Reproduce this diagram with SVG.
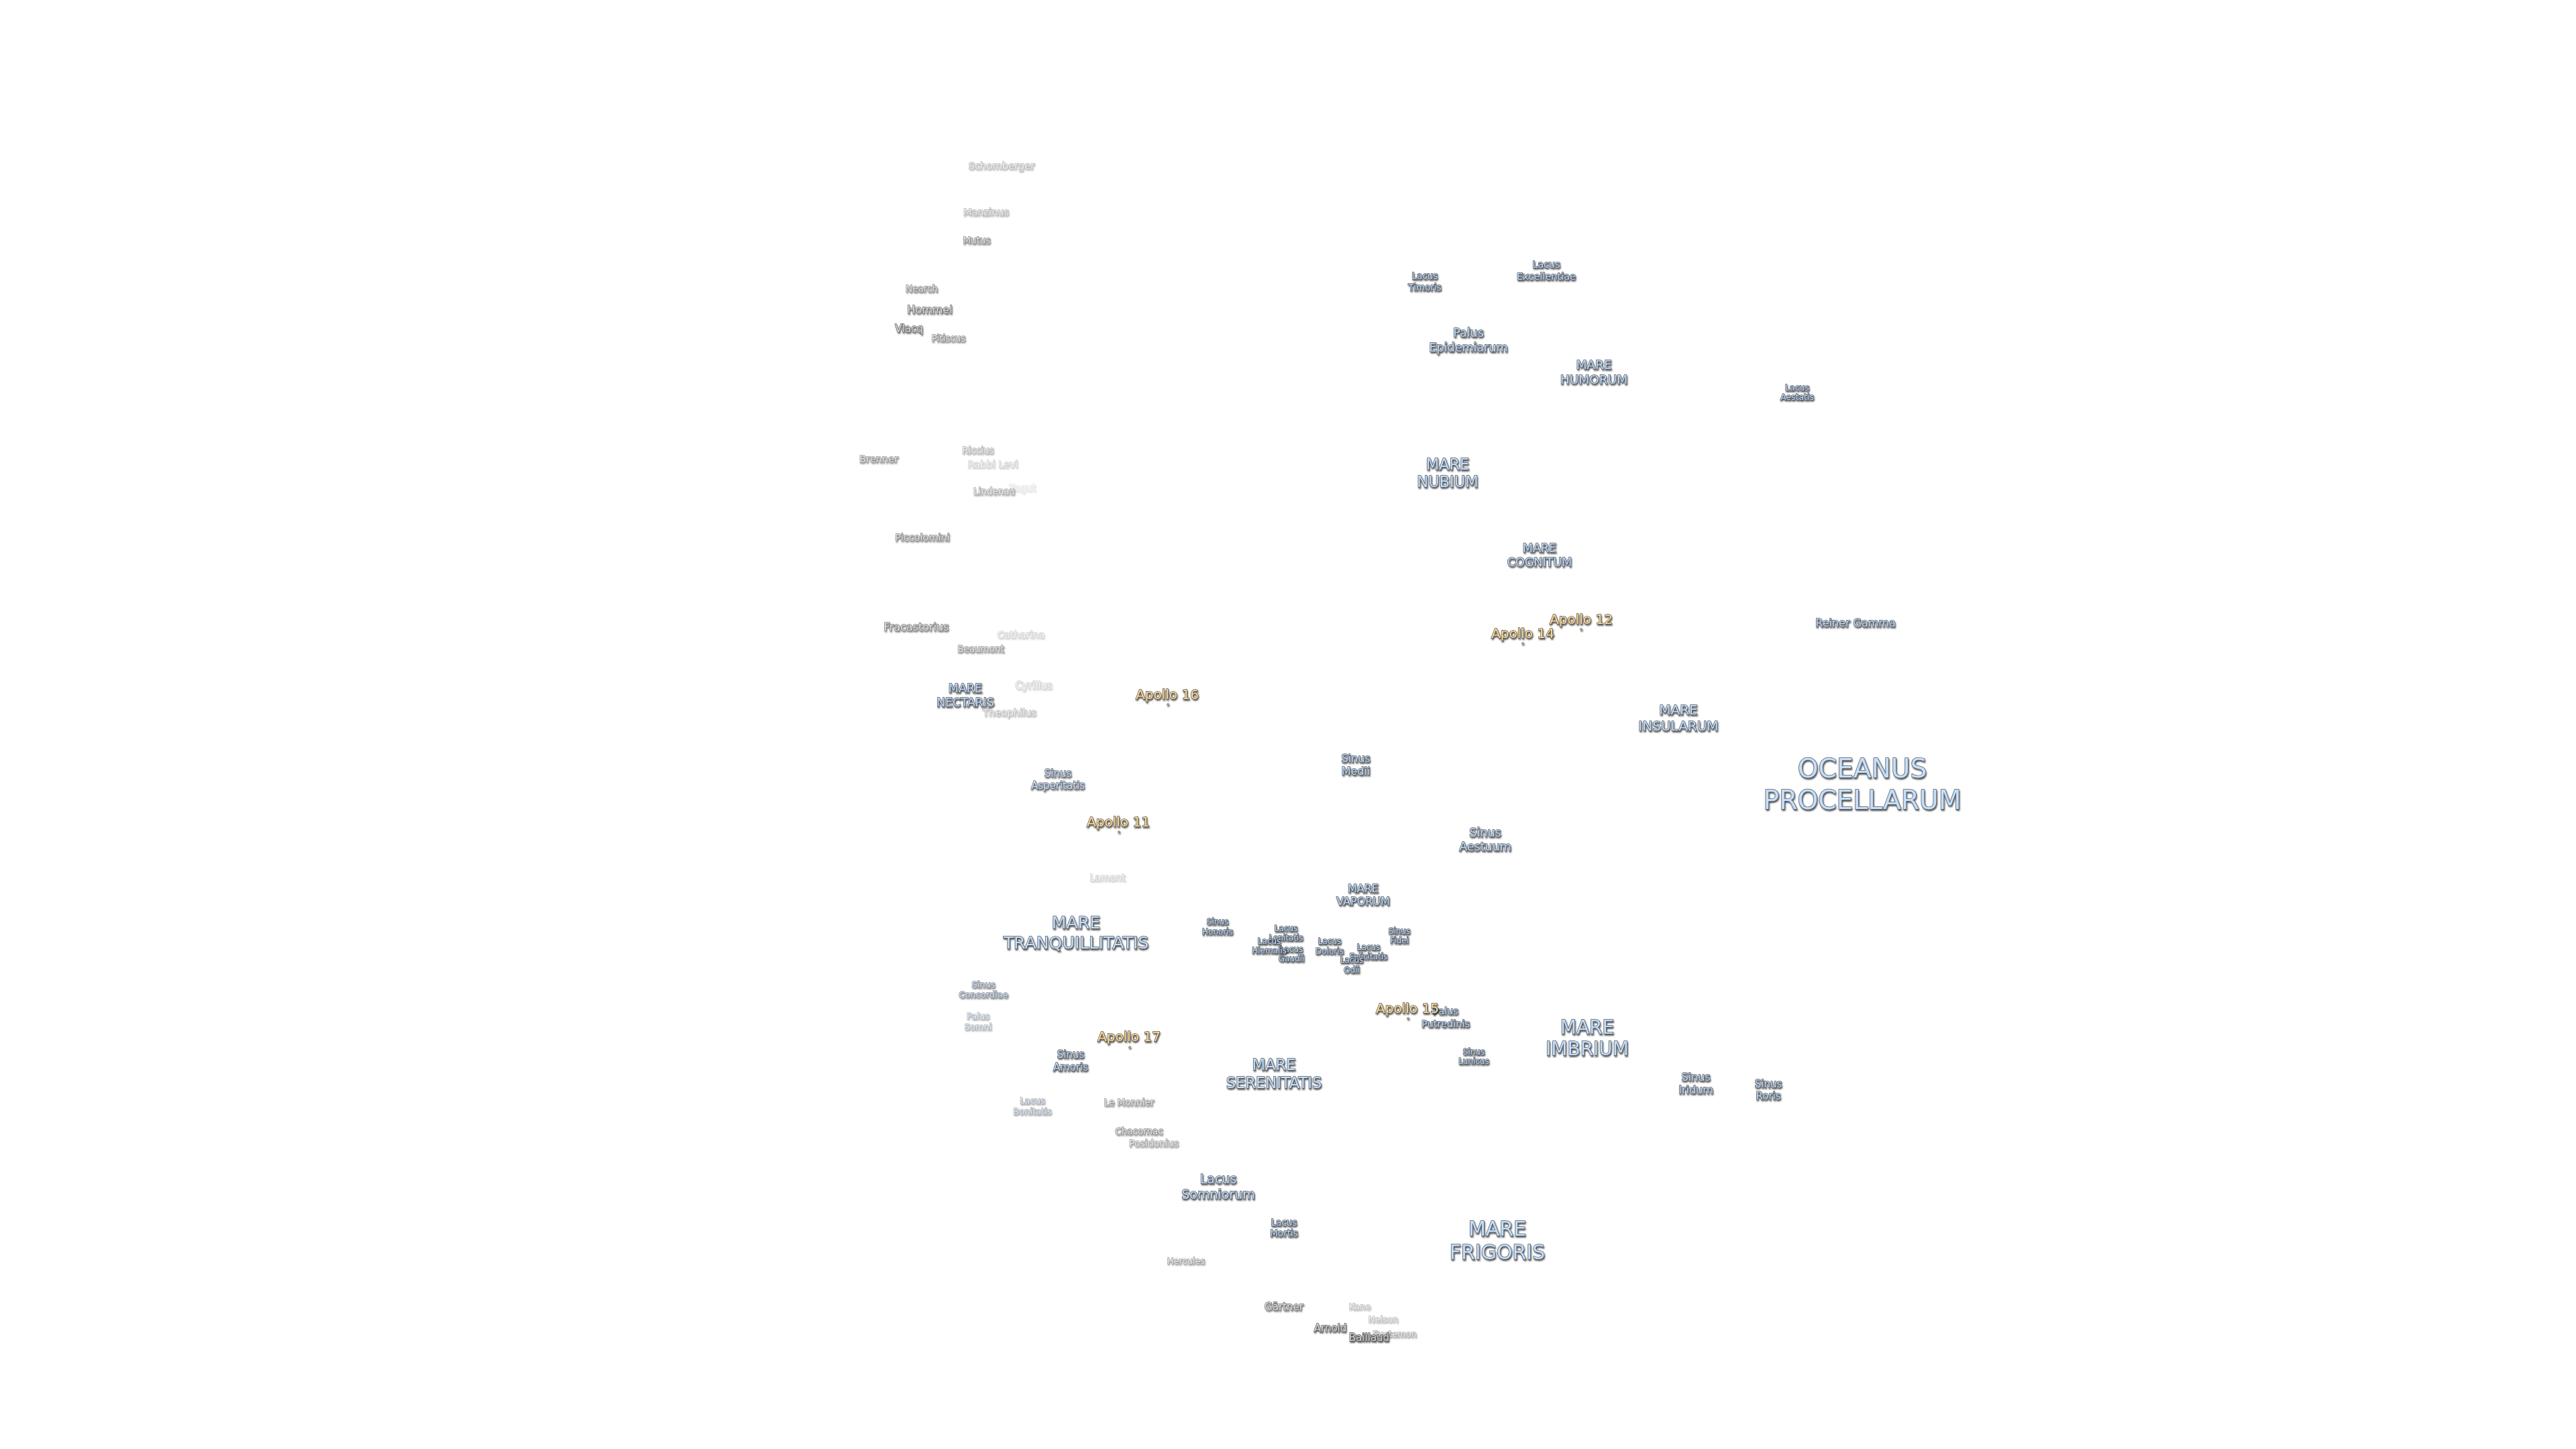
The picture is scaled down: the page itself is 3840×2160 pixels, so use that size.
<svg xmlns="http://www.w3.org/2000/svg" width="3840" height="2160" viewBox="0 0 3840 2160">
<style>
text{font-family:"DejaVu Sans",Verdana,sans-serif;text-anchor:middle;paint-order:stroke;stroke-width:1.4px;stroke-linejoin:miter}
g[id]{filter:url(#sh)}
.m text{fill:#c4dffc;stroke:#50555e}
.a text{fill:#ffdfa4;stroke:#5a4f3c}
.c text{fill:#dcdcdc;stroke:#444}
.a circle{fill:#e8b060;stroke:#444;stroke-width:.5}
</style>
<defs>
<filter id="sh" x="-20%" y="-30%" width="140%" height="170%">
<feGaussianBlur in="SourceAlpha" stdDeviation="1" result="b"/>
<feOffset in="b" dx="1.2" dy="1.8" result="o"/>
<feFlood flood-color="#000" flood-opacity=".7"/>
<feComposite in2="o" operator="in" result="s"/>
<feMerge result="m"><feMergeNode in="s"/><feMergeNode in="SourceGraphic"/></feMerge>
<feGaussianBlur in="m" stdDeviation=".4"/>
</filter>
</defs>
<rect width="3840" height="2160" fill="#fff"/>
<g transform="translate(0,-1.5)">
<g id="c-zagut" class="c" opacity=".15"><text x="1524" y="733" font-size="13.5">Zagut</text></g>
<g id="c-schomberger" class="c" opacity=".38"><text x="1493" y="253" font-size="14.7">Schomberger</text></g>
<g id="c-manzinus" class="c" opacity=".42"><text x="1470" y="322" font-size="14.5">Manzinus</text></g>
<g id="c-mutus" class="c" opacity=".65"><text x="1456" y="364" font-size="13.5">Mutus</text></g>
<g id="c-nearch" class="c" opacity=".65"><text x="1374" y="436" font-size="13.5">Nearch</text></g>
<g id="c-hommel" class="c" opacity=".8"><text x="1386" y="468" font-size="16">Hommel</text></g>
<g id="c-vlacq" class="c" opacity=".85"><text x="1355" y="496" font-size="15">Vlacq</text></g>
<g id="c-pitiscus" class="c" opacity=".62"><text x="1414" y="510" font-size="13.5">Pitiscus</text></g>
<g id="c-brenner" class="c" opacity=".62"><text x="1310" y="690" font-size="14.5">Brenner</text></g>
<g id="c-riccius" class="c" opacity=".42"><text x="1458" y="677" font-size="13.5">Riccius</text></g>
<g id="c-rabbi-levi" class="c" opacity=".26"><text x="1480" y="698" font-size="14.5">Rabbi Levi</text></g>
<g id="c-lindenau" class="c" opacity=".47"><text x="1482" y="738" font-size="13.5">Lindenau</text></g>
<g id="c-piccolomini" class="c" opacity=".68"><text x="1375" y="807" font-size="14.5">Piccolomini</text></g>
<g id="c-fracastorius" class="c" opacity=".72"><text x="1366" y="941" font-size="16">Fracastorius</text></g>
<g id="c-catharina" class="c" opacity=".25"><text x="1522" y="952" font-size="14.5">Catharina</text></g>
<g id="c-beaumont" class="c" opacity=".58"><text x="1462" y="973" font-size="13.5">Beaumont</text></g>
<g id="c-cyrillus" class="c" opacity=".25"><text x="1541" y="1028" font-size="15">Cyrillus</text></g>
<g id="c-theophilus" class="c" opacity=".37"><text x="1505" y="1068" font-size="14.7">Theophilus</text></g>
<g id="c-lamont" class="c" opacity=".26"><text x="1651" y="1314" font-size="14">Lamont</text></g>
<g id="c-le-monnier" class="c" opacity=".58"><text x="1683" y="1649" font-size="13.5">Le Monnier</text></g>
<g id="c-chacornac" class="c" opacity=".62"><text x="1698" y="1692" font-size="13.5">Chacornac</text></g>
<g id="c-posidonius" class="c" opacity=".52"><text x="1720" y="1710" font-size="14">Posidonius</text></g>
<g id="c-hercules" class="c" opacity=".52"><text x="1768" y="1885" font-size="13">Hercules</text></g>
<g id="c-gartner" class="c" opacity=".78"><text x="1914" y="1954" font-size="15">Gärtner</text></g>
<g id="c-kane" class="c" opacity=".36"><text x="2027" y="1953" font-size="13">Kane</text></g>
<g id="c-nelson" class="c" opacity=".36"><text x="2062" y="1972" font-size="13">Nelson</text></g>
<g id="c-euctemon" class="c" opacity=".47"><text x="2079" y="1994" font-size="13">Euctemon</text></g>
<g id="c-arnold" class="c" opacity=".92"><text x="1983" y="1986" font-size="15">Arnold</text></g>
<g id="c-baillaud" class="c"><text x="2041" y="2000" font-size="15">Baillaud</text></g>
<g id="m-oceanus" class="m"><text font-size="39.2"><tspan x="2776" y="1160">OCEANUS</tspan><tspan x="2776" y="1207">PROCELLARUM</tspan></text></g>
<g id="m-reiner" class="m"><text x="2766" y="935" font-size="16">Reiner Gamma</text></g>
<g id="m-insularum" class="m"><text font-size="20"><tspan x="2502" y="1066">MARE</tspan><tspan x="2502" y="1090">INSULARUM</tspan></text></g>
<g id="m-medii" class="m"><text font-size="16"><tspan x="2021" y="1137">Sinus</tspan><tspan x="2021" y="1156">Medii</tspan></text></g>
<g id="m-aestuum" class="m"><text font-size="17.5"><tspan x="2214" y="1248">Sinus</tspan><tspan x="2214" y="1269">Aestuum</tspan></text></g>
<g id="m-vaporum" class="m"><text font-size="16"><tspan x="2032" y="1331">MARE</tspan><tspan x="2032" y="1350">VAPORUM</tspan></text></g>
<g id="m-honoris" class="m"><text font-size="12"><tspan x="1815" y="1379">Sinus</tspan><tspan x="1815" y="1394">Honoris</tspan></text></g>
<g id="m-lenitatis" class="m"><text font-size="12"><tspan x="1917" y="1389">Lacus</tspan><tspan x="1917" y="1403">Lenitatis</tspan></text></g>
<g id="m-gaudii" class="m"><text font-size="12"><tspan x="1925" y="1420">Lacus</tspan><tspan x="1925" y="1434">Gaudii</tspan></text></g>
<g id="m-hiemalis" class="m"><text font-size="12"><tspan x="1892" y="1408">Lacus</tspan><tspan x="1892" y="1422">Hiemalis</tspan></text></g>
<g id="m-doloris" class="m"><text font-size="12"><tspan x="1982" y="1408">Lacus</tspan><tspan x="1982" y="1423">Doloris</tspan></text></g>
<g id="m-felicitatis" class="m"><text font-size="12"><tspan x="2040" y="1417">Lacus</tspan><tspan x="2040" y="1431">Felicitatis</tspan></text></g>
<g id="m-odii" class="m"><text font-size="12"><tspan x="2015" y="1436">Lacus</tspan><tspan x="2015" y="1451">Odii</tspan></text></g>
<g id="m-fidei" class="m"><text font-size="12"><tspan x="2086" y="1393">Sinus</tspan><tspan x="2086" y="1407">Fidei</tspan></text></g>
<g id="m-putredinis" class="m"><text font-size="14.5"><tspan x="2155" y="1513">Palus</tspan><tspan x="2155" y="1532">Putredinis</tspan></text></g>
<g id="m-lunicus" class="m"><text font-size="12"><tspan x="2197" y="1573">Sinus</tspan><tspan x="2197" y="1587">Lunicus</tspan></text></g>
<g id="m-imbrium" class="m"><text font-size="28"><tspan x="2366" y="1542">MARE</tspan><tspan x="2366" y="1574">IMBRIUM</tspan></text></g>
<g id="m-iridum" class="m"><text font-size="16"><tspan x="2528" y="1612">Sinus</tspan><tspan x="2528" y="1631">Iridum</tspan></text></g>
<g id="m-roris" class="m"><text font-size="15"><tspan x="2636" y="1622">Sinus</tspan><tspan x="2636" y="1640">Roris</tspan></text></g>
<g id="m-asperitatis" class="m" opacity=".88"><text font-size="15"><tspan x="1577" y="1159">Sinus</tspan><tspan x="1577" y="1177">Asperitatis</tspan></text></g>
<g id="m-tranquillitatis" class="m"><text font-size="25.2"><tspan x="1604" y="1385">MARE</tspan><tspan x="1604" y="1415">TRANQUILLITATIS</tspan></text></g>
<g id="m-concordiae" class="m" opacity=".7"><text font-size="13"><tspan x="1466" y="1473">Sinus</tspan><tspan x="1466" y="1488">Concordiae</tspan></text></g>
<g id="m-somni" class="m" opacity=".45"><text font-size="13"><tspan x="1458" y="1520">Palus</tspan><tspan x="1458" y="1536">Somni</tspan></text></g>
<g id="m-amoris" class="m"><text font-size="15"><tspan x="1596" y="1578">Sinus</tspan><tspan x="1596" y="1597">Amoris</tspan></text></g>
<g id="m-bonitatis" class="m" opacity=".5"><text font-size="13"><tspan x="1539" y="1646">Lacus</tspan><tspan x="1539" y="1662">Bonitatis</tspan></text></g>
<g id="m-serenitatis" class="m"><text font-size="22.6"><tspan x="1899" y="1596">MARE</tspan><tspan x="1899" y="1623">SERENITATIS</tspan></text></g>
<g id="m-somniorum" class="m"><text font-size="19"><tspan x="1816" y="1765">Lacus</tspan><tspan x="1816" y="1788">Somniorum</tspan></text></g>
<g id="m-mortis" class="m"><text font-size="13.5"><tspan x="1914" y="1828">Lacus</tspan><tspan x="1914" y="1844">Mortis</tspan></text></g>
<g id="m-frigoris" class="m"><text font-size="30"><tspan x="2232" y="1843">MARE</tspan><tspan x="2232" y="1878">FRIGORIS</tspan></text></g>
<g id="m-nectaris" class="m"><text font-size="17.5"><tspan x="1439" y="1033">MARE</tspan><tspan x="1439" y="1054">NECTARIS</tspan></text></g>
<g id="m-timoris" class="m"><text font-size="13.5"><tspan x="2124" y="417">Lacus</tspan><tspan x="2124" y="434">Timoris</tspan></text></g>
<g id="m-excellentiae" class="m"><text font-size="14.5"><tspan x="2305" y="400">Lacus</tspan><tspan x="2305" y="418">Excellentiae</tspan></text></g>
<g id="m-epidemiarum" class="m"><text font-size="17.5"><tspan x="2189" y="503">Palus</tspan><tspan x="2189" y="525">Epidemiarum</tspan></text></g>
<g id="m-humorum" class="m"><text font-size="18.5"><tspan x="2376" y="551">MARE</tspan><tspan x="2376" y="573">HUMORUM</tspan></text></g>
<g id="m-aestatis" class="m"><text font-size="12.5"><tspan x="2679" y="583">Lacus</tspan><tspan x="2679" y="597">Aestatis</tspan></text></g>
<g id="m-nubium" class="m"><text font-size="22.5"><tspan x="2158" y="701">MARE</tspan><tspan x="2158" y="727">NUBIUM</tspan></text></g>
<g id="m-cognitum" class="m"><text font-size="17.5"><tspan x="2295" y="824">MARE</tspan><tspan x="2295" y="845">COGNITUM</tspan></text></g>
<g id="a-11" class="a"><circle cx="1668" cy="1241.5" r="1.5"/><text x="1667" y="1233" font-size="20">Apollo 11</text></g>
<g id="a-12" class="a"><circle cx="2357" cy="939.5" r="1.5"/><text x="2357" y="931" font-size="20">Apollo 12</text></g>
<g id="a-14" class="a"><circle cx="2270" cy="960.5" r="1.5"/><text x="2270" y="952" font-size="20">Apollo 14</text></g>
<g id="a-15" class="a"><circle cx="2099" cy="1519.5" r="1.5"/><text x="2098" y="1511" font-size="20">Apollo 15</text></g>
<g id="a-16" class="a"><circle cx="1741" cy="1051.5" r="1.5"/><text x="1740" y="1043" font-size="20">Apollo 16</text></g>
<g id="a-17" class="a"><circle cx="1684" cy="1562.5" r="1.5"/><text x="1683" y="1553" font-size="20">Apollo 17</text></g>
</g>
</svg>
